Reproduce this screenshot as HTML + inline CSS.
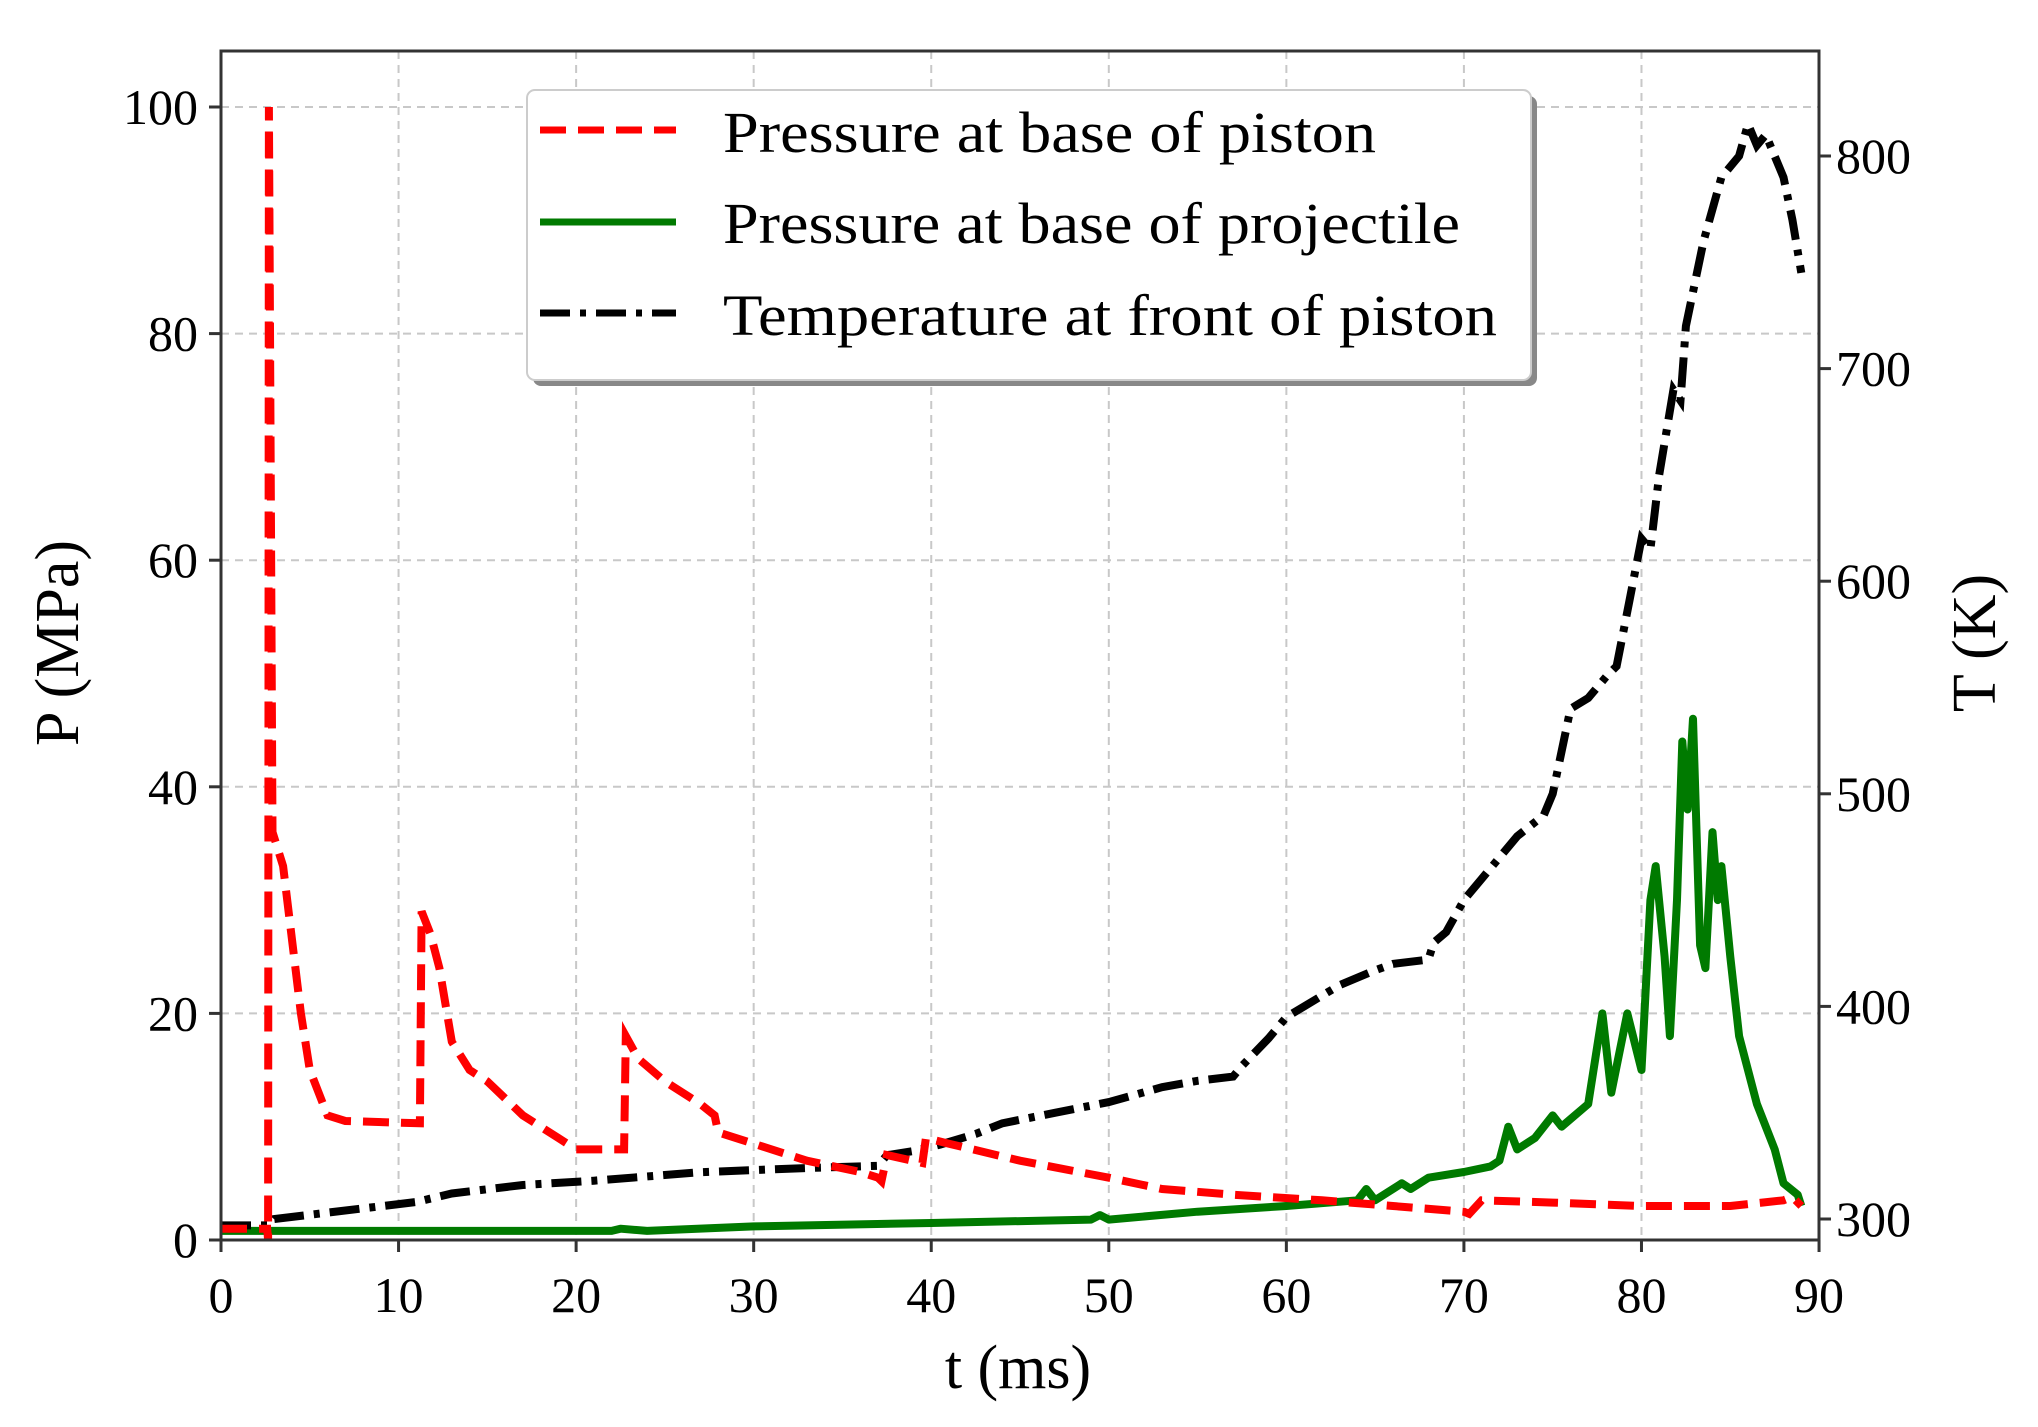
<!DOCTYPE html>
<html><head><meta charset="utf-8"><style>
html,body{margin:0;padding:0;background:#fff;}
svg{display:block;}
text{font-family:"Liberation Serif",serif;fill:#000;}
</style></head><body>
<svg id="s" width="2038" height="1427" viewBox="0 0 2038 1427" xmlns="http://www.w3.org/2000/svg">
<rect width="2038" height="1427" fill="#fff"/>
<g id="grid" stroke="#c8c8c8" stroke-width="2" stroke-dasharray="8,6"></g>
<g id="series"></g>
<rect x="221" y="51" width="1598" height="1189" fill="none" stroke="#333" stroke-width="3"/>
<g id="ticks" stroke="#333" stroke-width="3"></g>
<g id="labels" font-size="50"></g>
<text x="1018" y="1388" font-size="62" text-anchor="middle">t (ms)</text>
<text transform="translate(78,643) rotate(-90)" font-size="62" text-anchor="middle">P (MPa)</text>
<text transform="translate(1995,643) rotate(-90)" font-size="62" text-anchor="middle">T (K)</text>
<rect x="533" y="96" width="1004" height="290" rx="8" fill="#888"/>
<rect x="527" y="90" width="1004" height="290" rx="8" fill="#fff" stroke="#ccc" stroke-width="2"/>
<line x1="540" y1="130" x2="676" y2="130" stroke="#f00" stroke-width="7" stroke-dasharray="26,12"/>
<line x1="540" y1="222" x2="676" y2="222" stroke="#007a00" stroke-width="7"/>
<line x1="540" y1="313" x2="676" y2="313" stroke="#000" stroke-width="7" stroke-dasharray="30,10,6,10"/>
<text x="723" y="152" font-size="58" textLength="653" lengthAdjust="spacingAndGlyphs">Pressure at base of piston</text>
<text x="723" y="243" font-size="58" textLength="737" lengthAdjust="spacingAndGlyphs">Pressure at base of projectile</text>
<text x="723" y="335" font-size="58" textLength="774" lengthAdjust="spacingAndGlyphs">Temperature at front of piston</text>
</svg>
<script>
var NS="http://www.w3.org/2000/svg";
function X(t){return 221+t*17.756;}
function YP(p){return 1240-p*11.33;}
function YT(T){return 1219-(T-300)*2.126;}
function el(par,tag,a,txt){var e=document.createElementNS(NS,tag);for(var k in a)e.setAttribute(k,a[k]);if(txt!==undefined)e.textContent=txt;document.getElementById(par).appendChild(e);return e;}
for(var t=10;t<90;t+=10)el("grid","line",{x1:X(t),y1:51,x2:X(t),y2:1240});
for(var p=20;p<=100;p+=20)el("grid","line",{x1:221,y1:YP(p),x2:1819,y2:YP(p)});
for(var t=0;t<=90;t+=10){el("ticks","line",{x1:X(t),y1:1240,x2:X(t),y2:1252});el("labels","text",{x:X(t),y:1312,"text-anchor":"middle"},""+t);}
for(var p=0;p<=100;p+=20){el("ticks","line",{x1:209,y1:YP(p),x2:221,y2:YP(p)});el("labels","text",{x:198,y:YP(p)+17,"text-anchor":"end"},""+p);}
for(var T=300;T<=800;T+=100){el("ticks","line",{x1:1819,y1:YT(T),x2:1831,y2:YT(T)});el("labels","text",{x:1836,y:YT(T)+17},""+T);}
function path(pts,fy){return pts.map(function(q,i){return (i?"L":"M")+X(q[0]).toFixed(1)+","+fy(q[1]).toFixed(1);}).join("");}
var green=[[0,0.8],[22,0.8],[22.5,1.0],[24,0.8],[30,1.2],[40,1.5],[49,1.8],[49.5,2.2],[50,1.8],[55,2.5],[60,3],[64,3.5],[64.5,4.5],[65,3.5],[66.5,5],[67,4.5],[68,5.5],[70,6],[71.5,6.5],[72,7],[72.5,10],[73,8],[74,9],[75,11],[75.5,10],[77,12],[77.8,20],[78.3,13],[79.2,20],[80,15],[80.5,30],[80.8,33],[81.3,25],[81.6,18],[82,30],[82.3,44],[82.6,38],[82.9,46],[83.3,26],[83.6,24],[84,36],[84.3,30],[84.5,33],[85,25],[85.5,18],[86.5,12],[87.5,8],[88,5],[88.8,4],[89,3]];
var red=[[0,1],[2.6,1],[2.65,0],[2.7,100],[2.9,36],[3.5,33],[4.5,20],[5,15],[6,11],[7,10.5],[11.2,10.3],[11.3,29],[11.8,27],[12.3,24],[13,17.5],[14,15],[15,14],[17,11],[19,9],[20,8],[22.7,8],[22.8,18],[23.5,16],[25,14],[27,12],[27.8,11],[28,9.5],[30,8.5],[33,7],[36,6],[37,5.5],[37.2,5.2],[37.5,7.5],[39.5,6.8],[39.7,9],[41,8.5],[45,7],[50,5.5],[53,4.5],[57,4],[62,3.5],[66,3],[70,2.5],[70.3,2.3],[71,3.5],[75,3.3],[80,3],[85,3],[88,3.5],[88.5,3.8],[89,3]];
var black=[[0,297],[2.7,297],[3,300],[8,305],[11,308],[13,312],[17,316],[21,318],[27,322],[33,324],[37,325],[37.5,330],[39,332],[40.5,335],[42.5,340],[44,345],[47,350],[50,355],[53,362],[55,365],[57,367],[57.5,372],[59,385],[60,395],[61,400],[63,410],[65,417],[66,420],[68,422],[68.3,430],[69,435],[70,450],[71,460],[72,470],[73,480],[74.5,490],[75,500],[76,540],[77,545],[78,555],[78.6,560],[79.3,590],[80,620],[80.5,615],[81,650],[81.8,690],[82.2,685],[82.5,720],[83.5,760],[84.5,790],[85.5,800],[86,815],[86.5,805],[87,810],[88,790],[88.5,770],[89,745]];
el("series","path",{d:path(green,YP),fill:"none",stroke:"#007a00","stroke-width":8,"stroke-linejoin":"round"});
el("series","path",{d:path(black,YT),fill:"none",stroke:"#000","stroke-width":8,"stroke-dasharray":"30,10,6,10"});
el("series","path",{d:path(red,YP),fill:"none",stroke:"#f00","stroke-width":8,"stroke-dasharray":"26,12"});
</script>
</body></html>
